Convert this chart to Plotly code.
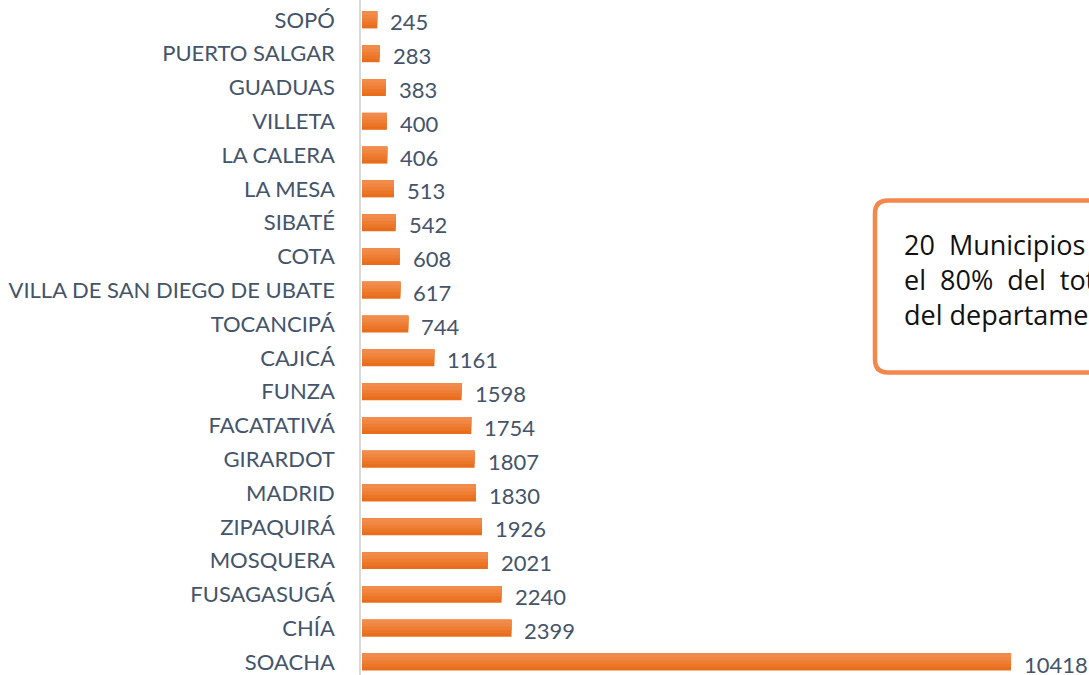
import plotly.graph_objects as go

# 下 (SOACHA) から上 (SOPÓ) の順
municipios = [
    "SOACHA", "CHÍA", "FUSAGASUGÁ", "MOSQUERA", "ZIPAQUIRÁ", "MADRID",
    "GIRARDOT", "FACATATIVÁ", "FUNZA", "CAJICÁ", "TOCANCIPÁ",
    "VILLA DE SAN DIEGO DE UBATE", "COTA", "SIBATÉ", "LA MESA",
    "LA CALERA", "VILLETA", "GUADUAS", "PUERTO SALGAR", "SOPÓ",
]
casos = [10418, 2399, 2240, 2021, 1926, 1830, 1807, 1754, 1598, 1161, 744,
         617, 608, 542, 513, 406, 400, 383, 283, 245]

W, H = 1089, 675
L = 361
TEXT_COLOR = "#44546A"
# バーの縦グラデーション (下 → 上)
BAND_COLORS = ["#E86E1D", "#EB7628", "#EE7E34", "#F08641", "#F28C4D"]

idx = list(range(len(municipios)))

fig = go.Figure()
# グラデーション近似: 下端は共通にせず、上端を揃えた帯を暗い順に重ねる
bar_w = 0.5
band = bar_w / len(BAND_COLORS)
for k, c in enumerate(BAND_COLORS):
    fig.add_trace(go.Bar(
        x=casos,
        y=idx,
        orientation="h",
        width=bar_w - k * band,
        offset=-bar_w / 2 + k * band,
        marker=dict(color=c, line=dict(width=0)),
        hoverinfo="skip",
    ))

# 値ラベル
for i, v in zip(idx, casos):
    fig.add_annotation(
        x=v, y=i, text=str(v), showarrow=False,
        xanchor="left", xshift=11, yshift=-2,
        font=dict(family="Lato", size=22, color=TEXT_COLOR),
    )


def px2paper(px, py):
    return (px - L) / (W - L), 1 - py / H


# 角丸の枠 (ピクセル座標 → paper 座標)
x0, y0, x1, y1, r = 875, 200.5, 1120, 372.5, 13
segs = [
    ("M", [(x0 + r, y0)]), ("L", [(x1, y0)]), ("L", [(x1, y1)]),
    ("L", [(x0 + r, y1)]), ("Q", [(x0, y1), (x0, y1 - r)]),
    ("L", [(x0, y0 + r)]), ("Q", [(x0, y0), (x0 + r, y0)]),
]
path = ""
for cmd, pts in segs:
    path += cmd + " " + " ".join(
        "{:.5f},{:.5f}".format(*px2paper(a, b)) for a, b in pts) + " "
path += "Z"
fig.add_shape(
    type="path", path=path, xref="paper", yref="paper",
    line=dict(color="#F4874B", width=4.5), fillcolor="white",
    layer="above",
)

tx, ty = px2paper(902, 280)
fig.add_annotation(
    x=tx, y=ty, xref="paper", yref="paper", showarrow=False,
    xanchor="left", yanchor="middle", align="left",
    text="20  Municipios  concentran<br>el  80%  del  total  de  casos<br>del departamento",
    font=dict(family="Open Sans", size=27, color="#111111"),
)

yr0 = (662 - H) / 33.79
yr1 = 662 / 33.79
fig.update_layout(
    width=W, height=H,
    margin=dict(l=L, r=0, t=0, b=0),
    plot_bgcolor="white", paper_bgcolor="white",
    showlegend=False,
    barmode="overlay",
    xaxis=dict(range=[-16, (W - L) / 0.0623 - 16], visible=False),
    yaxis=dict(
        range=[yr0, yr1],
        tickvals=idx, ticktext=municipios,
        showline=True, linecolor="#D9D9D9", linewidth=1.5,
        showgrid=False, zeroline=False, ticks="",
        ticklabelstandoff=20,
        tickfont=dict(family="Lato", size=22, color=TEXT_COLOR),
    ),
)

fig.write_html(
    "out.html",
    config={"displayModeBar": False},
    post_script="document.body.style.margin='0';",
)
